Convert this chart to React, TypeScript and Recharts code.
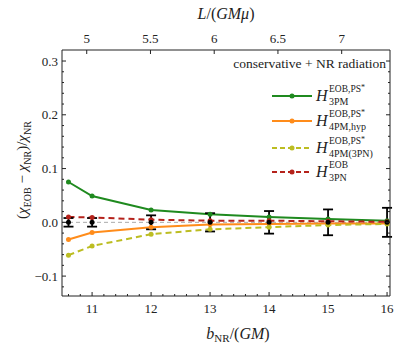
import {
  Customized,
  ErrorBar,
  Legend,
  Line,
  LineChart,
  ReferenceLine,
  XAxis,
  YAxis,
} from "recharts";

const bNR = [10.6, 11, 12, 13, 14, 15, 16];
const h3PM = [0.075, 0.049, 0.023, 0.015, 0.01, 0.006, 0.003];
const h4PMhyp = [-0.032, -0.019, -0.009, -0.004, -0.003, -0.002, -0.002];
const h4PM3PN = [-0.061, -0.044, -0.022, -0.013, -0.009, -0.005, -0.003];
const h3PN = [0.01, 0.009, 0.005, 0.003, 0.003, 0.002, 0.001];
const nrValue = [0, 0, 0, 0, 0, 0, 0];
const nrErr = [0.008, 0.008, 0.013, 0.017, 0.021, 0.024, 0.027];

const bTicks = [
  10.6, 10.8, 11, 11.2, 11.4, 11.6, 11.8, 12, 12.2, 12.4, 12.6, 12.8, 13, 13.2,
  13.4, 13.6, 13.8, 14, 14.2, 14.4, 14.6, 14.8, 15, 15.2, 15.4, 15.6, 15.8, 16,
];
const yTicks = [
  -0.12, -0.1, -0.08, -0.06, -0.04, -0.02, 0, 0.02, 0.04, 0.06, 0.08, 0.1, 0.12,
  0.14, 0.16, 0.18, 0.2, 0.22, 0.24, 0.26, 0.28, 0.3,
];
const lTicks = [5, 5.5, 6, 6.5, 7];

const data = bNR.map((b, i) => ({
  b,
  h3PM: h3PM[i],
  h4PMhyp: h4PMhyp[i],
  h4PM3PN: h4PM3PN[i],
  h3PN: h3PN[i],
  nr: nrValue[i],
  nrErr: nrErr[i],
}));

const FONT = "Liberation Serif, DejaVu Serif, serif";
const INK = "#222";

const legendItems = [
  { color: "#1f8a1f", dashed: false, sup: "EOB,PS", star: true, sub: "3PM" },
  { color: "#ff8c1a", dashed: false, sup: "EOB,PS", star: true, sub: "4PM,hyp" },
  { color: "#bcbd22", dashed: true, sup: "EOB,PS", star: true, sub: "4PM(3PN)" },
  { color: "#b5221b", dashed: true, sup: "EOB", star: false, sub: "3PN" },
];

const isMajorY = (v: number) => Math.abs(v * 10 - Math.round(v * 10)) < 1e-6;
const isMajorB = (v: number) => Math.abs(v - Math.round(v)) < 1e-6;

const txt = { fontFamily: FONT, fill: INK };

function LeftTick({ x, y, payload }: any) {
  const v = payload.value as number;
  const major = isMajorY(v);
  return (
    <g>
      <line x1={x} x2={x + (major ? 4 : 2)} y1={y} y2={y} stroke={INK} />
      {major && (
        <text x={x - 4} y={y + 4.5} textAnchor="end" fontSize={13} style={txt}>
          {v.toFixed(1).replace("-", "\u2212")}
        </text>
      )}
    </g>
  );
}

function RightTick({ x, y, payload }: any) {
  const major = isMajorY(payload.value);
  return <line x1={x} x2={x - (major ? 4 : 2)} y1={y} y2={y} stroke={INK} />;
}

function BottomTick({ x, y, payload }: any) {
  const v = payload.value as number;
  const major = isMajorB(v);
  return (
    <g>
      <line x1={x} x2={x} y1={y} y2={y - (major ? 4 : 2)} stroke={INK} />
      {major && (
        <text x={x} y={y + 17} textAnchor="middle" fontSize={13} style={txt}>
          {v}
        </text>
      )}
    </g>
  );
}

function TopTick({ x, y, payload }: any) {
  return (
    <g>
      <line x1={x} x2={x} y1={y} y2={y + 4} stroke={INK} />
      <text x={x} y={y - 7} textAnchor="middle" fontSize={13} style={txt}>
        {payload.value}
      </text>
    </g>
  );
}

function AxisTitles() {
  return (
    <g style={txt}>
      <text x={226} y={19} textAnchor="middle" fontSize={16} style={txt}>
        <tspan fontStyle="italic">L</tspan>/(<tspan fontStyle="italic">GMμ</tspan>)
      </text>
      <text x={238} y={339} textAnchor="middle" fontSize={16} style={txt}>
        <tspan fontStyle="italic">b</tspan>
        <tspan fontSize={11} dy={3}>NR</tspan>
        <tspan dy={-3}>/(</tspan>
        <tspan fontStyle="italic">GM</tspan>)
      </text>
      <text x={27} y={170} textAnchor="middle" fontSize={15} style={txt} transform="rotate(-90 27 170)">
        (<tspan fontStyle="italic">χ</tspan>
        <tspan fontSize={10} dy={4}>EOB</tspan>
        <tspan dy={-4}> − </tspan>
        <tspan fontStyle="italic">χ</tspan>
        <tspan fontSize={10} dy={4}>NR</tspan>
        <tspan dy={-4}>)/</tspan>
        <tspan fontStyle="italic">χ</tspan>
        <tspan fontSize={10} dy={4}>NR</tspan>
      </text>
    </g>
  );
}

function LegendBox() {
  return (
    <svg width={168} height={135} style={{ display: "block" }}>
      <text x={161} y={17} textAnchor="end" fontSize={13.5} style={txt}>
        conservative + NR radiation
      </text>
      {legendItems.map((it, i) => {
        const y = [45, 70, 97, 121][i];
        return (
          <g key={it.sub}>
            <line
              x1={47}
              x2={87}
              y1={y}
              y2={y}
              stroke={it.color}
              strokeWidth={2}
              strokeDasharray={it.dashed ? "5 3" : undefined}
            />
            <circle cx={67} cy={y} r={2.5} fill={it.color} />
            <text x={91} y={y + 5} fontSize={16} style={txt}>
              <tspan fontStyle="italic">H</tspan>
              <tspan x={104} y={y - 4} fontSize={9.5}>{it.sup}</tspan>
              {it.star && <tspan fontSize={8} dy={-2}>*</tspan>}
              <tspan x={104} y={y + 9} fontSize={10}>{it.sub}</tspan>
            </text>
          </g>
        );
      })}
    </svg>
  );
}

export default function App() {
  return (
    <div style={{ position: "absolute", left: 0, top: 0, width: 399, height: 345, background: "#fff", fontFamily: FONT }}>
      <LineChart width={399} height={345} data={data} margin={{ top: 0, right: 0, bottom: 0, left: 0 }}>
        <XAxis
          xAxisId="b"
          dataKey="b"
          type="number"
          domain={[10.49, 16.05]}
          ticks={bTicks}
          interval={0}
          height={49}
          tickSize={0}
          tickMargin={0}
          tickLine={false}
          stroke={INK}
          tick={<BottomTick />}
          allowDataOverflow
        />
        <XAxis
          xAxisId="L"
          dataKey="L"
          orientation="top"
          type="number"
          domain={[4.806, 7.379]}
          ticks={lTicks}
          interval={0}
          height={50}
          tickSize={0}
          tickMargin={0}
          tickLine={false}
          stroke={INK}
          tick={<TopTick />}
          allowDataOverflow
        />
        <YAxis
          yAxisId="y"
          type="number"
          domain={[-0.137, 0.3205]}
          ticks={yTicks}
          interval={0}
          width={62}
          tickSize={0}
          tickMargin={0}
          tickLine={false}
          stroke={INK}
          tick={<LeftTick />}
          allowDataOverflow
        />
        <YAxis
          yAxisId="r"
          orientation="right"
          type="number"
          domain={[-0.137, 0.3205]}
          ticks={yTicks}
          interval={0}
          width={9}
          tickSize={0}
          tickMargin={0}
          tickLine={false}
          stroke={INK}
          tick={<RightTick />}
          allowDataOverflow
        />
        <ReferenceLine xAxisId="b" yAxisId="y" y={0} stroke="#aaa" strokeDasharray="4 3" />
        <Line xAxisId="b" yAxisId="y" dataKey="h3PM" stroke="#1f8a1f" strokeWidth={2}
          dot={{ r: 2.5, fill: "#1f8a1f", stroke: "none" }} isAnimationActive={false} />
        <Line xAxisId="b" yAxisId="y" dataKey="h4PMhyp" stroke="#ff8c1a" strokeWidth={2}
          dot={{ r: 2.5, fill: "#ff8c1a", stroke: "none" }} isAnimationActive={false} />
        <Line xAxisId="b" yAxisId="y" dataKey="h4PM3PN" stroke="#bcbd22" strokeWidth={2}
          strokeDasharray="6 4" dot={{ r: 2.5, fill: "#bcbd22", stroke: "none" }} isAnimationActive={false} />
        <Line xAxisId="b" yAxisId="y" dataKey="h3PN" stroke="#b5221b" strokeWidth={2}
          strokeDasharray="6 4" dot={{ r: 2.5, fill: "#b5221b", stroke: "none" }} isAnimationActive={false} />
        <Line xAxisId="b" yAxisId="y" dataKey="nr" stroke="none"
          dot={{ r: 2.5, fill: "#000", stroke: "none" }} isAnimationActive={false}>
          <ErrorBar dataKey="nrErr" direction="y" width={5} stroke="#000" strokeWidth={1.8} />
        </Line>
        <Legend
          layout="vertical"
          align="center"
          verticalAlign="middle"
          wrapperStyle={{ left: 225, top: 51, width: 168 }}
          content={() => <LegendBox />}
        />
        <Customized component={AxisTitles} />
      </LineChart>
    </div>
  );
}
